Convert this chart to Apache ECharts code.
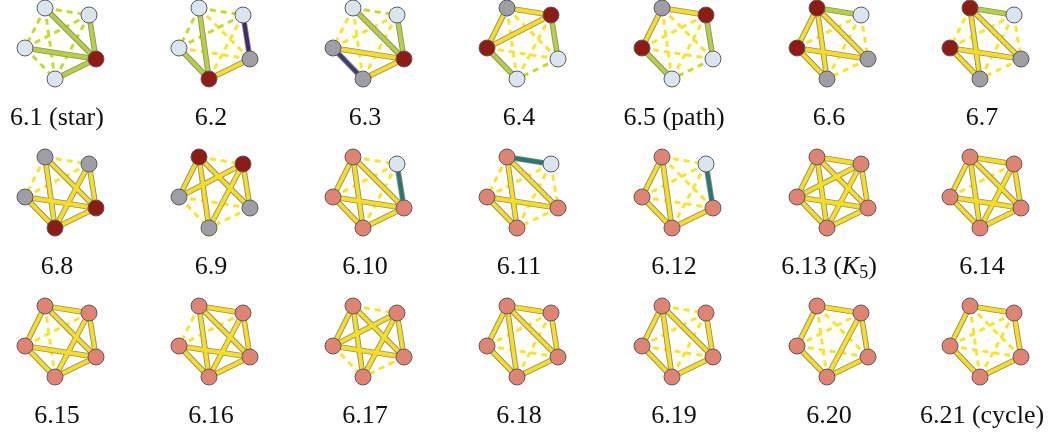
<!DOCTYPE html>
<html>
<head>
<meta charset="utf-8">
<script src="https://cdn.jsdelivr.net/npm/echarts@6/dist/echarts.min.js"></script>
<style>
html,body{margin:0;padding:0;background:#fff}
#main{width:1048px;height:434px}
</style>
</head>
<body>
<div id="main"></div>
<script>
// every little graph has the same five nodes, in this order
var nodeNames = ['TL', 'TR', 'L', 'R', 'B'];
// pentagon shape, offsets from the top-left node
var shape = [[0, 0], [44, 7], [-20, 40], [51, 51], [10, 71]];
var colX = [45, 199, 353, 507, 662, 817, 970];
var rowY = [8, 157, 306];

var labels = ['6.1 (star)', '6.2', '6.3', '6.4', '6.5 (path)', '6.6', '6.7',
  '6.8', '6.9', '6.10', '6.11', '6.12', '6.13 (K5)', '6.14',
  '6.15', '6.16', '6.17', '6.18', '6.19', '6.20', '6.21 (cycle)'];

// node kinds TL,TR,L,R,B : w light blue, r red, g gray, s salmon
var nodeKinds = ['wwwrw', 'wwwgr', 'wwgrg', 'grrww', 'grrww', 'rwrgg', 'rwrgg',
  'gggrr', 'rrggg', 'swsss', 'swsss', 'swsss', 'sssss', 'sssss',
  'sssss', 'sssss', 'sssss', 'sssss', 'sssss', 'sssss', 'sssss'];

var ALL = 'TL-TR TL-L TL-R TL-B TR-L TR-R TR-B L-R L-B R-B';
// solid edges, the rest are drawn dashed
var edges = [
  'TL-R TR-R L-R B-R',
  'TL-B L-B B-R TR-R',
  'TL-R TR-R L-R B-R L-B',
  'TL-TR TL-L L-TR TR-R L-B',
  'TL-TR TL-L TR-R L-B',
  'TL-TR TL-L TL-B TL-R L-R L-B',
  'TL-TR TL-B TL-R L-R L-B',
  'TL-B TL-R TR-B TR-R L-R L-B B-R',
  'TL-L TL-B TL-R TR-L TR-R TR-B',
  'TL-L TL-B TL-R L-R L-B B-R TR-R',
  'TL-TR TL-B TL-R L-R L-B',
  'TL-L TL-B L-B B-R TR-R',
  ALL,
  'TL-TR TL-L TL-R TL-B TR-R TR-B L-R L-B R-B',
  'TL-TR TL-L TL-R TR-R TR-B L-R L-B R-B',
  'TL-TR TL-R TL-B TR-R TR-B L-R L-B R-B',
  'TL-L TL-R TL-B TR-L TR-R TR-B L-R',
  'TL-TR TL-L TL-R TL-B TR-R L-B R-B',
  'TL-L TL-B TL-R L-B B-R TR-R',
  'TL-TR TR-R R-B B-L L-TL TR-B',
  'TL-TR TR-R R-B B-L L-TL'
];

var nodeColor = {w: '#dbe5ef', r: '#8e1b15', g: '#a09ea5', s: '#df8373'};
var solidColor = {rw: '#b5d236', gw: '#3c2a6a', gg: '#3a3c7c', sw: '#257a72'};
var yellow = '#f8df1c';

function idx(n) { return nodeNames.indexOf(n); }
function pairKey(a, b) { return [a, b].sort().join(''); }

var nodes = [], hidden = [], solid = [], outline = [], dashed = [];
labels.forEach(function (t, g) {
  var cx = colX[g % 7], cy = rowY[Math.floor(g / 7)];
  var kinds = nodeKinds[g];
  shape.forEach(function (p, i) {
    var v = [cx + p[0], cy + p[1]];
    nodes.push({value: v, itemStyle: {color: nodeColor[kinds[i]]}});
    hidden.push({value: v});
  });
  var on = {};
  edges[g].split(' ').forEach(function (e) {
    var ab = e.split('-').map(idx).sort();
    on[ab.join(',')] = 1;
    var k = pairKey(kinds[ab[0]], kinds[ab[1]]);
    var s = g * 5 + ab[0], d = g * 5 + ab[1];
    outline.push({source: s, target: d});
    solid.push({source: s, target: d, lineStyle: {color: solidColor[k] || yellow}});
  });
  ALL.split(' ').forEach(function (e) {
    var ab = e.split('-').map(idx).sort();
    if (on[ab.join(',')]) return;
    var k = pairKey(kinds[ab[0]], kinds[ab[1]]);
    dashed.push({source: g * 5 + ab[0], target: g * 5 + ab[1],
      lineStyle: {color: k == 'ww' ? '#c3dc2c' : '#fae42a'}});
  });
});

var labelFont = '"Liberation Serif", "Times New Roman", serif';
var graphic = labels.map(function (t, g) {
  var x = colX[g % 7] + 12, y = rowY[Math.floor(g / 7)] + 110;
  var style = {text: t, fontFamily: labelFont, fontSize: 26, fill: '#111',
    align: 'center', verticalAlign: 'middle'};
  if (t == '6.13 (K5)') {
    style.text = '{n|6.13 (}{k|K}{s|5}{n|)}';
    style.rich = {
      n: {fontFamily: labelFont, fontSize: 26, lineHeight: 30, fill: '#111'},
      k: {fontFamily: labelFont, fontSize: 26, lineHeight: 30, fontStyle: 'italic', fill: '#111'},
      s: {fontFamily: labelFont, fontSize: 18, lineHeight: 16, verticalAlign: 'bottom', fill: '#111'}
    };
  }
  return {type: 'text', x: x, y: y, silent: true, style: style};
});

var base = {
  type: 'graph', coordinateSystem: 'cartesian2d', xAxisIndex: 0, yAxisIndex: 0,
  silent: true, roam: false, label: {show: false}, emphasis: {disabled: true}
};

var myChart = echarts.init(document.getElementById('main'));
var option = {
  animation: false,
  grid: {left: 0, right: 0, top: 0, bottom: 0},
  xAxis: {type: 'value', min: 0, max: 1048, show: false},
  yAxis: {type: 'value', min: 0, max: 434, inverse: true, show: false},
  graphic: graphic,
  series: [
    Object.assign({}, base, {data: hidden, symbolSize: 0, z: 1,
      links: dashed, lineStyle: {width: 3, type: [6, 5], opacity: 1}}),
    Object.assign({}, base, {data: hidden, symbolSize: 0, z: 2,
      links: outline, lineStyle: {width: 5.6, color: '#8f8c7c', opacity: 1}}),
    Object.assign({}, base, {data: nodes, symbolSize: 16, z: 3,
      itemStyle: {borderColor: '#5c5c5c', borderWidth: 1},
      links: solid, lineStyle: {width: 3.8, opacity: 1}})
  ]
};
myChart.setOption(option);
</script>
</body>
</html>
